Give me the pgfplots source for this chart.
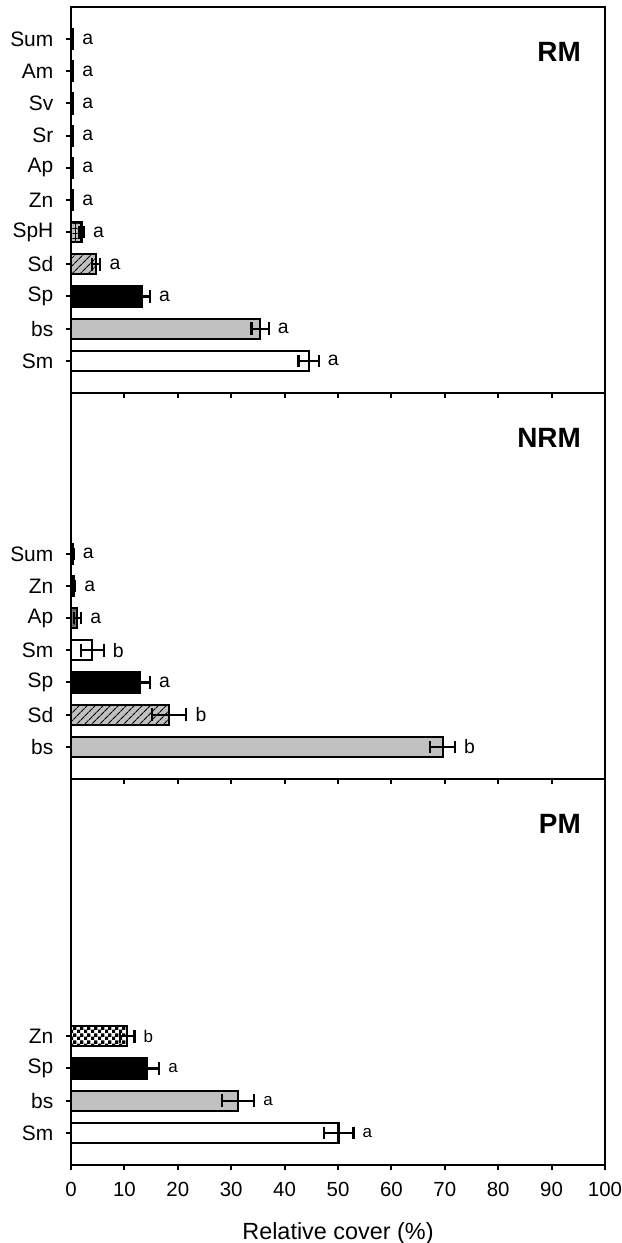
\documentclass[border=0pt]{standalone}
\usepackage{fontspec}
\setmainfont{Liberation Sans}
\usepackage{pgfplots}
\pgfplotsset{compat=1.18}
\usetikzlibrary{patterns,patterns.meta}

\pgfdeclarepatternformonly{bigchecker}{\pgfpointorigin}{\pgfqpoint{7bp}{7bp}}{\pgfqpoint{7bp}{7bp}}{%
  \pgfpathrectangle{\pgfpointorigin}{\pgfqpoint{3.6bp}{3.6bp}}%
  \pgfpathrectangle{\pgfqpoint{3.5bp}{3.5bp}}{\pgfqpoint{3.6bp}{3.6bp}}%
  \pgfusepath{fill}}

\definecolor{barg}{HTML}{C0C0C0}

\tikzset{
  lab/.style={anchor=west, inner sep=0pt, xshift=9bp, font=\fontsize{19.5}{22}\selectfont},
  labs/.style={anchor=west, inner sep=0pt, xshift=9bp, font=\fontsize{17}{20}\selectfont},
  ttl/.style={anchor=base east, inner sep=0pt, xshift=-24bp, yshift=-54.5bp, font=\fontsize{28}{30}\selectfont\bfseries},
}

\pgfplotsset{
  panel/.style={
    xbar, bar width=20bp,
    width=534bp, height=386bp, scale only axis, anchor=south west,
    xmin=0, xmax=100, ymin=-1, ymax=11,
    xtick={0,10,...,100},
    xtick pos=left, ytick pos=left,
    tick align=outside, major tick length=5.5bp,
    axis line style={line width=2.3bp},
    every tick/.style={black, line width=2bp},
    clip=false,
    every axis plot/.append style={bar shift=0pt},
    every axis plot post/.append style={draw=black, line width=2.1bp},
    error bars/error mark=|,
    error bars/error bar style={line width=2.1bp, black},
    error bars/error mark options={mark size=6.3bp, line width=2.1bp, black},
    yticklabel style={font=\fontsize{21}{24}\selectfont, inner sep=0pt, xshift=-12bp},
    xticklabel style={font=\fontsize{20.5}{24}\selectfont, inner sep=0pt, yshift=-12bp},
    /pgf/number format/assume math mode=true,
  },
  eb/.style={error bars/.cd, x dir=both, x explicit},
}

\begin{document}
\begin{tikzpicture}
% ---------------- RM ----------------
\begin{axis}[panel, at={(71bp,850bp)},
  ytick={0,...,10},
  yticklabels={Sm,bs,Sp,Sd,SpH,Zn,Ap,Sr,Sv,Am,Sum},
  xticklabels={}]
\addplot[fill=white, eb] coordinates {(44.5,0) +- (1.9,0)};
\addplot[fill=barg, eb] coordinates {(35.4,1) +- (1.6,0)};
\addplot[fill=black, eb] coordinates {(13.3,2) +- (1.5,0)};
\addplot[fill=barg, postaction={pattern={Lines[angle=45,distance=6bp,line width=1.4bp]}}, eb] coordinates {(4.7,3) +- (0.8,0)};
\addplot[fill=barg, postaction={pattern={Lines[angle=0,distance=5bp,line width=0.9bp]}}, postaction={pattern={Lines[angle=90,distance=5bp,line width=0.9bp]}}, eb] coordinates {(2.0,4) +- (0.4,0)};
\addplot[fill=black, eb] coordinates {(0.3,5) +- (0.1,0)};
\addplot[fill=black, eb] coordinates {(0.3,6) +- (0.1,0)};
\addplot[fill=black, eb] coordinates {(0.3,7) +- (0.1,0)};
\addplot[fill=black, eb] coordinates {(0.3,8) +- (0.1,0)};
\addplot[fill=black, eb] coordinates {(0.3,9) +- (0.1,0)};
\addplot[fill=black, eb] coordinates {(0.3,10) +- (0.1,0)};
\node[lab] at (axis cs:46.4,0) {a};
\node[lab] at (axis cs:37.0,1) {a};
\node[lab] at (axis cs:14.8,2) {a};
\node[lab] at (axis cs:5.5,3) {a};
\node[lab] at (axis cs:2.4,4) {a};
\node[lab] at (axis cs:0.4,5) {a};
\node[lab] at (axis cs:0.4,6) {a};
\node[lab] at (axis cs:0.4,7) {a};
\node[lab] at (axis cs:0.4,8) {a};
\node[lab] at (axis cs:0.4,9) {a};
\node[lab] at (axis cs:0.4,10) {a};
\node[ttl] at (rel axis cs:1,1) {RM};
\end{axis}
% ---------------- NRM ----------------
\begin{axis}[panel, at={(71bp,464bp)},
  ytick={0,...,6},
  yticklabels={bs,Sd,Sp,Sm,Ap,Zn,Sum},
  xticklabels={}]
\addplot[fill=barg, eb] coordinates {(69.6,0) +- (2.3,0)};
\addplot[fill=barg, postaction={pattern={Lines[angle=45,distance=6bp,line width=1.4bp]}}, eb] coordinates {(18.4,1) +- (3.2,0)};
\addplot[fill=black, eb] coordinates {(13.0,2) +- (1.8,0)};
\addplot[fill=white, eb] coordinates {(4.0,3) +- (2.1,0)};
\addplot[fill=gray, postaction={pattern=crosshatch dots}, eb] coordinates {(1.2,4) +- (0.7,0)};
\addplot[fill=black, eb] coordinates {(0.6,5) +- (0.2,0)};
\addplot[fill=black, eb] coordinates {(0.4,6) +- (0.1,0)};
\node[lab] at (axis cs:71.9,0) {b};
\node[lab] at (axis cs:21.6,1) {b};
\node[lab] at (axis cs:14.8,2) {a};
\node[lab] at (axis cs:6.1,3) {b};
\node[lab] at (axis cs:1.9,4) {a};
\node[lab] at (axis cs:0.8,5) {a};
\node[lab] at (axis cs:0.5,6) {a};
\node[ttl] at (rel axis cs:1,1) {NRM};
\end{axis}
% ---------------- PM ----------------
\begin{axis}[panel, at={(71bp,78bp)},
  ytick={0,...,3},
  yticklabels={Sm,bs,Sp,Zn}]
\addplot[fill=white, eb] coordinates {(50.1,0) +- (2.8,0)};
\addplot[fill=barg, eb] coordinates {(31.3,1) +- (3.0,0)};
\addplot[fill=black, eb] coordinates {(14.2,2) +- (2.3,0)};
\addplot[fill=white, postaction={pattern=bigchecker, pattern color=black}, eb] coordinates {(10.5,3) +- (1.4,0)};
\node[labs] at (axis cs:52.9,0) {a};
\node[labs] at (axis cs:34.3,1) {a};
\node[labs] at (axis cs:16.5,2) {a};
\node[labs] at (axis cs:11.9,3) {b};
\node[ttl] at (rel axis cs:1,1) {PM};
\end{axis}
\node[anchor=base, inner sep=0pt, font=\fontsize{23.5}{26}\selectfont] at (338bp,3.5bp) {Relative cover (\%)};
\pgfresetboundingbox
\path[use as bounding box] (0,0) rectangle (622bp,1243bp);
\end{tikzpicture}
\end{document}
